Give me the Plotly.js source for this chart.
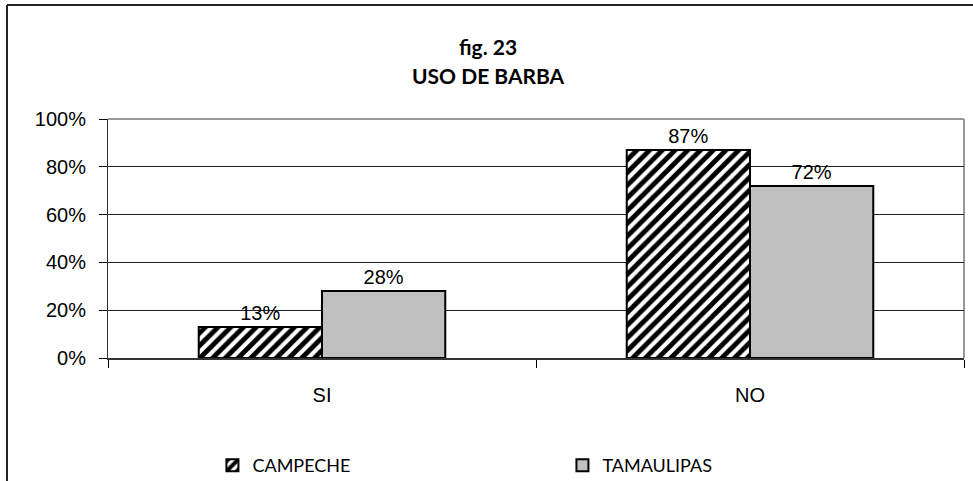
<!DOCTYPE html>
<html>
<head>
<meta charset="utf-8">
<script src="https://cdn.plot.ly/plotly-3.0.1.min.js"></script>
<style>
  body { margin: 0; background: #fff; }
  #barbaPlot { width: 973px; height: 481px; }
</style>
</head>
<body>
<div id="barbaPlot"></div>
<script>
const categories = ["SI", "NO"]
const campeche = [0.13, 0.87]
const tamaulipas = [0.28, 0.72]
const seriesNames = ["CAMPECHE", "TAMAULIPAS"]
const yTicks = [0, 0.2, 0.4, 0.6, 0.8, 1.0]
const titleLines = ["fig. 23", "USO DE BARBA"]

const comicFont = "Comic Sans MS, Lato, sans-serif"
const arialFont = "Liberation Sans, Arial, sans-serif"

function pctLabels(values) {
    // labels drawn above each bar
    return values.map(v => Math.round(v * 100) + "%")
}

let campecheTrace = {
    type: 'bar',
    name: seriesNames[0],
    x: categories,
    y: campeche,
    text: pctLabels(campeche),
    textposition: 'outside',
    cliponaxis: false,
    textfont: {family: arialFont, size: 20, color: '#000'},
    marker: {
        color: '#fff',
        line: {color: '#000', width: 2},
        pattern: {shape: '/', fgcolor: '#000', bgcolor: '#fff', size: 9, solidity: 0.55}
    },
    hoverinfo: 'skip'
}

let tamaulipasTrace = {
    type: 'bar',
    name: seriesNames[1],
    x: categories,
    y: tamaulipas,
    text: pctLabels(tamaulipas),
    textposition: 'outside',
    cliponaxis: false,
    textfont: {family: arialFont, size: 20, color: '#000'},
    marker: {
        color: '#c0c0c0',
        line: {color: '#000', width: 2}
    },
    hoverinfo: 'skip'
}

let layout = {
    width: 973,
    height: 481,
    margin: {l: 108, r: 9, t: 119, b: 123, autoexpand: false},
    paper_bgcolor: '#fff',
    plot_bgcolor: '#fff',
    showlegend: true,
    barmode: 'group',
    bargap: 0.424,
    bargroupgap: 0,
    font: {family: arialFont, size: 20, color: '#000'},
    xaxis: {
        type: 'category',
        tickson: 'boundaries',
        ticks: 'outside',
        ticklen: 8,
        tickcolor: '#000',
        ticklabelstandoff: 18,
        showline: true,
        linecolor: '#333',
        linewidth: 2,
        showgrid: false,
        tickfont: {family: arialFont, size: 20},
        fixedrange: true
    },
    yaxis: {
        range: [0, 1],
        tickvals: yTicks,
        tickformat: '.0%',
        ticks: 'outside',
        ticklen: 8,
        tickcolor: '#000',
        ticklabelstandoff: 9,
        showline: true,
        linecolor: '#333',
        linewidth: 1,
        showgrid: true,
        gridcolor: '#222',
        gridwidth: 1,
        zeroline: false,
        tickfont: {family: arialFont, size: 20},
        fixedrange: true
    },
    legend: {
        orientation: 'h',
        x: 0.122,
        xanchor: 'left',
        y: -0.373,
        yanchor: 'top',
        entrywidth: 305,
        entrywidthmode: 'pixels',
        font: {family: comicFont, size: 18},
        itemclick: false
    },
    annotations: [
        {text: '<b>' + titleLines[0] + '</b>', xref: 'paper', yref: 'paper', x: 0.444, y: 1.364,
         showarrow: false, font: {family: comicFont, size: 21}},
        {text: '<b>' + titleLines[1] + '</b>', xref: 'paper', yref: 'paper', x: 0.444, y: 1.243,
         showarrow: false, font: {family: comicFont, size: 21}}
    ],
    shapes: [
        // gray plot area border top and right
        {type: 'line', xref: 'paper', yref: 'paper', x0: 0, x1: 1, y0: 1, y1: 1,
         line: {color: '#999', width: 2}, layer: 'below'},
        {type: 'line', xref: 'paper', yref: 'paper', x0: 1, x1: 1, y0: 0, y1: 1,
         line: {color: '#999', width: 2}, layer: 'below'},
        // outer frame of the figure
        {type: 'line', xref: 'paper', yref: 'paper', x0: -0.118, x1: 1.1, y0: 1.477, y1: 1.477,
         line: {color: '#222', width: 2}},
        {type: 'line', xref: 'paper', yref: 'paper', x0: -0.118, x1: -0.118, y0: 1.477, y1: -0.6,
         line: {color: '#222', width: 2}}
    ]
}

let config = {staticPlot: true}

Plotly.newPlot('barbaPlot', [campecheTrace, tamaulipasTrace], layout, config)
</script>
</body>
</html>
